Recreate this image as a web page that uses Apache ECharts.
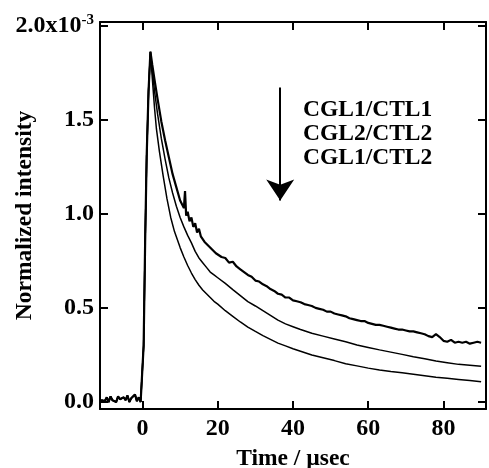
<!DOCTYPE html>
<html>

<head>
	<meta charset="UTF-8">
	<title></title>
	<style>
		html, body { margin: 0; padding: 0; background: #fff; }
		#chart1 { width: 489px; height: 468px; }
	</style>
	<script src="https://cdn.jsdelivr.net/npm/echarts@6/dist/echarts.min.js"></script>
</head>

<body>
	<div id="chart1"></div>
	<script>
		// time (usec), intensity (x10^-3)
		var xTicks = [0, 20, 40, 60, 80];
		var yTicks = [0, 0.5, 1.0, 1.5, 2.0];
		var legendLines = ['CGL1/CTL1', 'CGL2/CTL2', 'CGL1/CTL2'];

		// pre-trigger baseline + rising edge, same for all three traces
		var baseline = [
			[-11, 0.01], [-10.5, 0.02], [-10, 0.005], [-9.5, 0.025], [-9, 0.0], [-8.5, 0.03],
			[-8, 0.01], [-7.5, 0.02], [-7, 0.0], [-6.5, 0.03], [-6, 0.015], [-5.5, 0.005],
			[-5, 0.025], [-4.5, 0.01], [-4, 0.035], [-3.5, 0.0], [-3, 0.02], [-2.5, 0.01],
			[-2, 0.04], [-1.5, 0.005], [-1, 0.025], [-0.5, 0.0], [0, 0.01],
			[0.3, 0.3], [0.7, 0.85], [1.1, 1.3], [1.6, 1.65], [2.1, 1.86]
		];

		var decayCtl1 = [
			[2.6, 1.79], [3.2, 1.71], [4, 1.61], [5, 1.49], [6, 1.39], [7, 1.30], [8, 1.21],
			[9, 1.14], [10, 1.07], [10.5, 1.05], [11, 1.03], [11.3, 1.12], [11.6, 0.99],
			[12, 1.01], [12.5, 0.96], [13, 0.98], [13.5, 0.93], [14, 0.95], [14.5, 0.90],
			[15, 0.92], [15.5, 0.88], [16, 0.89], [16.5, 0.85], [17, 0.86], [17.5, 0.83],
			[18, 0.84], [18.5, 0.81], [19, 0.815], [19.5, 0.79], [20, 0.795], [21, 0.77],
			[22, 0.765], [23, 0.74], [24, 0.745], [25, 0.72], [26, 0.705], [27, 0.69],
			[28, 0.675], [29, 0.665], [30, 0.645], [31, 0.64], [32, 0.625], [33, 0.615],
			[34, 0.60], [35, 0.59], [36, 0.575], [37, 0.57], [38, 0.555], [39, 0.555],
			[40, 0.54], [41, 0.535], [42, 0.53], [43, 0.52], [44, 0.515], [45, 0.51],
			[46, 0.50], [47, 0.495], [48, 0.49], [49, 0.48], [50, 0.48], [51, 0.47],
			[52, 0.465], [53, 0.46], [54, 0.455], [55, 0.445], [56, 0.44], [57, 0.435],
			[58, 0.43], [59, 0.43], [60, 0.42], [61, 0.415], [62, 0.41], [63, 0.41],
			[64, 0.405], [65, 0.40], [66, 0.395], [67, 0.39], [68, 0.385], [69, 0.385],
			[70, 0.38], [71, 0.375], [72, 0.375], [73, 0.37], [74, 0.365], [75, 0.36],
			[76, 0.35], [77, 0.345], [78, 0.36], [79, 0.345], [80, 0.325], [81, 0.32],
			[82, 0.33], [83, 0.315], [84, 0.32], [85, 0.315], [86, 0.32], [87, 0.31],
			[88, 0.315], [89, 0.32], [90, 0.315]
		];

		var decayCtl2b = [
			[2.6, 1.76], [3.2, 1.65], [4, 1.53], [5, 1.40], [6, 1.29], [7, 1.19], [8, 1.11],
			[9, 1.04], [10, 0.98], [11, 0.93], [12, 0.885], [13, 0.845], [14, 0.80],
			[15, 0.765], [16, 0.74], [17, 0.715], [18, 0.69], [19, 0.675], [20, 0.66],
			[22, 0.63], [24, 0.597], [26, 0.565], [28, 0.533], [30, 0.51], [32, 0.485],
			[34, 0.46], [36, 0.435], [38, 0.415], [40, 0.40], [42, 0.385], [45, 0.365],
			[48, 0.35], [51, 0.335], [54, 0.32], [57, 0.303], [60, 0.29], [63, 0.277],
			[66, 0.265], [69, 0.253], [72, 0.241], [75, 0.23], [78, 0.218], [81, 0.209],
			[84, 0.2], [87, 0.195], [90, 0.19]
		];

		var decayCtl2 = [
			[2.6, 1.72], [3.2, 1.56], [3.7, 1.45], [4.5, 1.33], [5.5, 1.2], [6.5, 1.08],
			[7.5, 0.98], [8.5, 0.905], [10, 0.82], [11, 0.77], [12, 0.725], [13, 0.685],
			[14, 0.65], [15, 0.62], [16, 0.595], [17, 0.575], [18, 0.555], [19, 0.535],
			[20, 0.52], [22, 0.485], [24, 0.455], [26, 0.425], [28, 0.398], [30, 0.375],
			[32, 0.353], [34, 0.333], [36, 0.313], [38, 0.298], [40, 0.283], [42, 0.27],
			[45, 0.25], [48, 0.235], [51, 0.22], [54, 0.203], [57, 0.192], [60, 0.18],
			[63, 0.17], [66, 0.162], [69, 0.155], [72, 0.148], [75, 0.14], [78, 0.132],
			[81, 0.126], [84, 0.12], [87, 0.114], [90, 0.108]
		];

		// arrow: from / to, in data units
		var arrowFrom = [36.6, 1.67];
		var arrowTo = [36.6, 1.07];

		var FONT = "'Liberation Serif', 'Times New Roman', serif";

		function frameAxis(pos, isX, showLabel) {
			var ax = {
				type: 'value',
				position: pos,
				min: isX ? -11.3 : -0.037,
				max: isX ? 91.3 : 2.018,
				splitLine: { show: false },
				axisLine: { show: true, onZero: false, lineStyle: { color: '#000', width: 2 } },
				axisTick: {
					show: true, inside: true, length: 8,
					customValues: isX ? xTicks : yTicks,
					lineStyle: { color: '#000', width: 2 }
				},
				axisLabel: { show: false }
			};
			if (showLabel) {
				ax.axisLabel = {
					show: true,
					customValues: isX ? xTicks : yTicks,
					color: '#000',
					fontFamily: FONT,
					fontWeight: 'bold',
					fontSize: 24,
					margin: isX ? 8 : 6
				};
			}
			return ax;
		}

		var xBottom = frameAxis('bottom', true, true);
		xBottom.name = 'Time / \u00b5sec';
		xBottom.nameLocation = 'middle';
		xBottom.nameGap = 38;
		xBottom.nameTextStyle = { color: '#000', fontFamily: FONT, fontWeight: 'bold', fontSize: 23.5 };

		var yLeft = frameAxis('left', false, true);
		yLeft.name = 'Normalized intensity';
		yLeft.nameLocation = 'middle';
		yLeft.nameGap = 63;
		yLeft.nameMoveOverlap = false;
		yLeft.nameTextStyle = { color: '#000', fontFamily: FONT, fontWeight: 'bold', fontSize: 23.5 };
		yLeft.axisLabel.formatter = function (v) {
			if (v === 2) return '{a|2.0x10}{s|-3}';
			return v.toFixed(1);
		};
		yLeft.axisLabel.rich = {
			a: { fontFamily: FONT, fontWeight: 'bold', fontSize: 24, color: '#000', lineHeight: 24 },
			s: { fontFamily: FONT, fontWeight: 'bold', fontSize: 15, color: '#000', verticalAlign: 'top', padding: [0, 0, 10, 0] }
		};

		function trace(name, decay, width) {
			return {
				name: name,
				type: 'line',
				xAxisIndex: 0,
				yAxisIndex: 0,
				showSymbol: false,
				data: baseline.concat(decay),
				lineStyle: { color: '#000', width: width },
				z: 3
			};
		}

		var series = [
			trace(legendLines[0], decayCtl1, 2.2),
			trace(legendLines[1], decayCtl2b, 1.5),
			trace(legendLines[2], decayCtl2, 1.5)
		];
		series[2].markLine = {
			silent: true,
			symbol: ['none', 'arrow'],
			symbolSize: 21,
			label: { show: false },
			lineStyle: { color: '#000', width: 2, type: 'solid' },
			data: [[{ coord: arrowFrom }, { coord: arrowTo }]]
		};

		var myChart = echarts.init(document.getElementById('chart1'));
		myChart.setOption({
			animation: false,
			backgroundColor: '#fff',
			grid: { left: 100, right: 3, top: 22, bottom: 59, outerBoundsMode: 'none' },
			xAxis: [xBottom, frameAxis('top', true, false)],
			yAxis: [yLeft, frameAxis('right', false, false)],
			graphic: [{
				type: 'text',
				left: 303,
				top: 98,
				style: {
					text: legendLines.join('\n'),
					fontFamily: FONT,
					fontWeight: 'bold',
					fontSize: 23.5,
					lineHeight: 24,
					fill: '#000'
				}
			}],
			series: series
		});
	</script>
</body>

</html>
